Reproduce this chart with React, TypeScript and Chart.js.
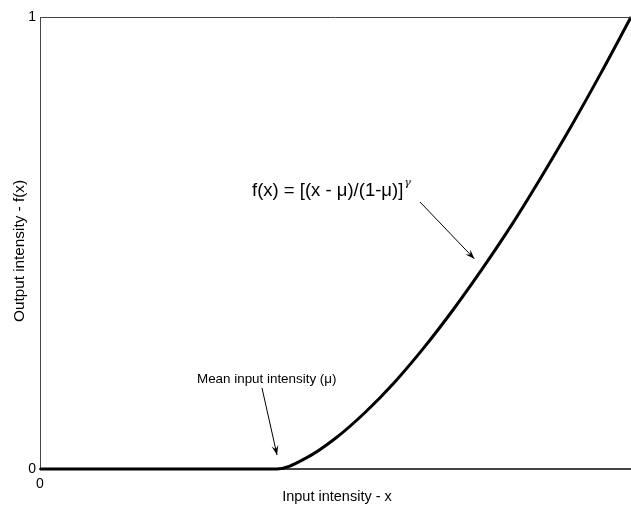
import React, { useEffect, useRef } from "react";
import { Chart, registerables } from "chart.js";

Chart.register(...registerables);

// Input intensity (x) and output intensity f(x) along the transfer curve
const inputX = [0, 0.1, 0.2, 0.3, 0.4, 0.45, 0.5, 0.55, 0.6, 0.65, 0.7, 0.75, 0.8, 0.85, 0.9, 0.95, 1.0];
const outputY = [0, 0, 0, 0, 0, 0.024, 0.068, 0.125, 0.192, 0.269, 0.354, 0.446, 0.544, 0.65, 0.761, 0.878, 1.0];

const yTickValues = [0, 1];
const xTickValues = [0];

const xTitle = "Input intensity - x";
const yTitle = "Output intensity - f(x)";
const formulaText = "f(x) = [(x - \u03bc)/(1-\u03bc)]";
const formulaExp = "\u03b3";
const meanLabel = "Mean input intensity (\u03bc)";

const FONT = "Arial, 'Liberation Sans', sans-serif";

function arrow(ctx: CanvasRenderingContext2D, x0: number, y0: number, x1: number, y1: number) {
  ctx.save();
  ctx.strokeStyle = "#000";
  ctx.fillStyle = "#000";
  ctx.lineWidth = 1;
  ctx.beginPath();
  ctx.moveTo(x0, y0);
  ctx.lineTo(x1, y1);
  ctx.stroke();
  const a = Math.atan2(y1 - y0, x1 - x0);
  const len = 10;
  const w = 0.35;
  ctx.beginPath();
  ctx.moveTo(x1, y1);
  ctx.lineTo(x1 - len * Math.cos(a - w), y1 - len * Math.sin(a - w));
  ctx.lineTo(x1 - len * 0.6 * Math.cos(a), y1 - len * 0.6 * Math.sin(a));
  ctx.lineTo(x1 - len * Math.cos(a + w), y1 - len * Math.sin(a + w));
  ctx.closePath();
  ctx.fill();
  ctx.restore();
}

const annotations = {
  id: "annotations",
  afterDraw(chart: any) {
    const ctx: CanvasRenderingContext2D = chart.ctx;
    const area = chart.chartArea;
    const xs = chart.scales.x;
    const ys = chart.scales.y;
    ctx.save();
    // frame top edge
    ctx.strokeStyle = "#444";
    ctx.lineWidth = 1;
    ctx.beginPath();
    ctx.moveTo(area.left, area.top + 0.5);
    ctx.lineTo(area.right, area.top + 0.5);
    ctx.stroke();

    ctx.fillStyle = "#000";
    // axis titles
    ctx.font = `14.5px ${FONT}`;
    ctx.textAlign = "center";
    ctx.textBaseline = "middle";
    ctx.fillText(xTitle, 337, 497);
    ctx.save();
    ctx.font = `15.3px ${FONT}`;
    ctx.translate(20, 251);
    ctx.rotate(-Math.PI / 2);
    ctx.fillText(yTitle, 0, 0);
    ctx.restore();

    // formula label
    ctx.font = `18.5px ${FONT}`;
    ctx.textAlign = "left";
    ctx.textBaseline = "alphabetic";
    const fx = 252;
    const fy = 196;
    ctx.fillText(formulaText, fx, fy);
    const fw = ctx.measureText(formulaText).width;
    ctx.font = `italic 11px 'DejaVu Serif', serif`;
    ctx.fillText(formulaExp, fx + fw + 1, fy - 10);

    // mean label
    ctx.font = `13.4px ${FONT}`;
    ctx.fillText(meanLabel, 197, 383);

    // arrows pointing at the curve
    arrow(ctx, 420, 202, xs.getPixelForValue(0.735), ys.getPixelForValue(0.465));
    arrow(ctx, 262, 388, 277, ys.getPixelForValue(0) - 14);
    ctx.restore();
  },
};

export default function App() {
  const ref = useRef<HTMLCanvasElement>(null);
  useEffect(() => {
    const canvas = ref.current;
    if (!canvas) return;
    const chart = new Chart(canvas, {
      type: "line",
      data: {
        datasets: [
          {
            data: inputX.map((x, i) => ({ x, y: outputY[i] })),
            borderColor: "#000",
            borderWidth: 3,
            pointRadius: 0,
            cubicInterpolationMode: "monotone",
            fill: false,
            clip: 4,
          },
        ],
      },
      options: {
        animation: false,
        responsive: false,
        events: [],
        layout: { padding: { top: 17, right: 0, left: 0, bottom: 0 } },
        plugins: { legend: { display: false }, tooltip: { enabled: false }, title: { display: false } },
        scales: {
          x: {
            type: "linear",
            min: 0,
            max: 1,
            grid: { display: false, drawTicks: false },
            border: { display: true, color: "#444", width: 2 },
            afterBuildTicks: (s: any) => {
              s.ticks = xTickValues.map((v) => ({ value: v }));
            },
            afterFit: (s: any) => {
              s.height = 37;
            },
            ticks: { color: "#000", font: { size: 14, family: FONT }, padding: 7, maxRotation: 0 },
          },
          y: {
            type: "linear",
            min: 0,
            max: 1,
            grid: { display: false, drawTicks: false },
            border: { display: true, color: "#444", width: 1 },
            afterBuildTicks: (s: any) => {
              s.ticks = yTickValues.map((v) => ({ value: v }));
            },
            afterFit: (s: any) => {
              s.width = 40;
            },
            ticks: { color: "#000", font: { size: 14, family: FONT }, padding: 4 },
          },
        },
      },
      plugins: [annotations],
    } as any);
    return () => chart.destroy();
  }, []);
  return (
    <div style={{ position: "fixed", left: 0, top: 0, width: 631, height: 506, background: "#fff" }}>
      <canvas ref={ref} width={631} height={506} style={{ display: "block" }} />
    </div>
  );
}
